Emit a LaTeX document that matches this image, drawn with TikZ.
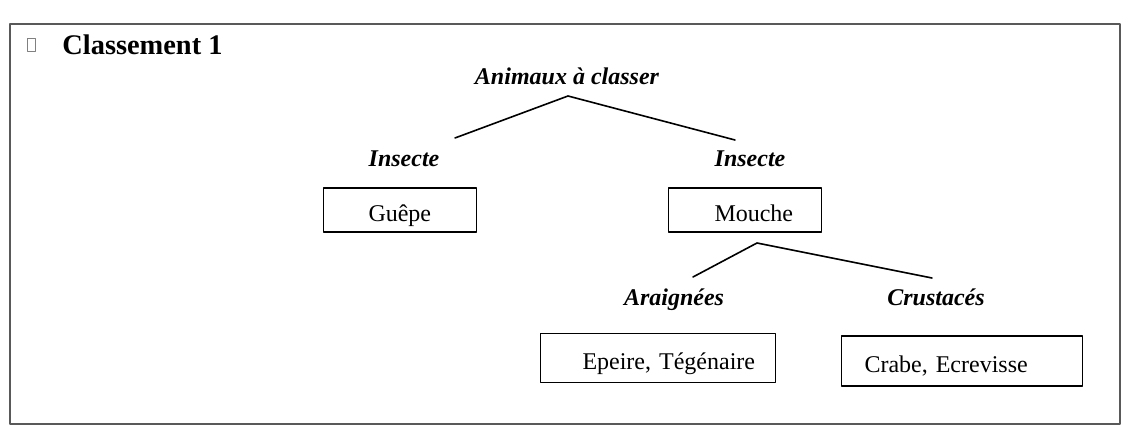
\documentclass[tikz,border=0pt]{standalone}
\usepackage{fontspec}
\setmainfont{Liberation Serif}
\usetikzlibrary{positioning}
\tikzset{
  every picture/.style={
    line join=round,
    line cap=round,
  },
  leaf/.style={draw, line width=0.8pt, font=\fontsize{12}{14}\selectfont,
    align=left, text height=12pt, text depth=0pt, inner ysep=0pt, minimum height=22pt},
  group/.style={font=\fontsize{12}{14}\selectfont\bfseries\itshape,
    text height=9.5pt, text depth=2.5pt, inner sep=1pt},
  branch/.style={line width=0.8pt},
}

\begin{document}
\begin{tikzpicture}[x=0.5pt, y=-0.5pt]
\useasboundingbox (0,0) rectangle (1131,426);
% Frame and title
\draw[gray!70!black, line width=0.8pt] (10,24) rectangle (1120,424);
\node[draw=gray, line width=0.5pt, minimum width=4pt, minimum height=6.5pt, inner sep=0pt] (mark) at (31,45) {};
\node[font=\fontsize{14.2}{16}\selectfont\bfseries, anchor=west, inner sep=0pt] (title) at (62,45) {Classement 1};

% Root
\node[group] (root) at (567,78) {Animaux à classer};

% First level
\node[group] (insL) at (404,160) {Insecte};
\node[group] (insR) at (750,160) {Insecte};
\node[leaf, inner xsep=22.5pt, text width=31.5pt] (guepe) at (400,210) {\mbox{Guêpe}};
\node[leaf, inner xsep=23pt, text width=30.5pt] (mouche) at (745,210) {\mbox{Mouche}};

% Second level
\node[group] (arai) at (674,299) {Araignées};
\node[group] (crus) at (936,299) {Crustacés};
\node[leaf, inner xsep=21pt, text width=75.5pt, minimum height=24.5pt] (epeire) at (658,358) {\mbox{Epeire, Tégénaire}};
\node[leaf, inner xsep=11.5pt, text width=97.5pt, minimum height=25pt] (crabe) at (962,361) {\mbox{Crabe, Ecrevisse}};

% Branches
\coordinate (rootfork) at (568,96);
\coordinate (insLtop) at (455,138);
\coordinate (insRtop) at (735,140);
\coordinate (mouchefork) at (757,243);
\coordinate (araitop) at (693,277);
\coordinate (crustop) at (932,278);
\draw[branch] (insLtop) -- (rootfork) -- (insRtop);
\draw[branch] (araitop) -- (mouchefork) -- (crustop);
\end{tikzpicture}
\end{document}
